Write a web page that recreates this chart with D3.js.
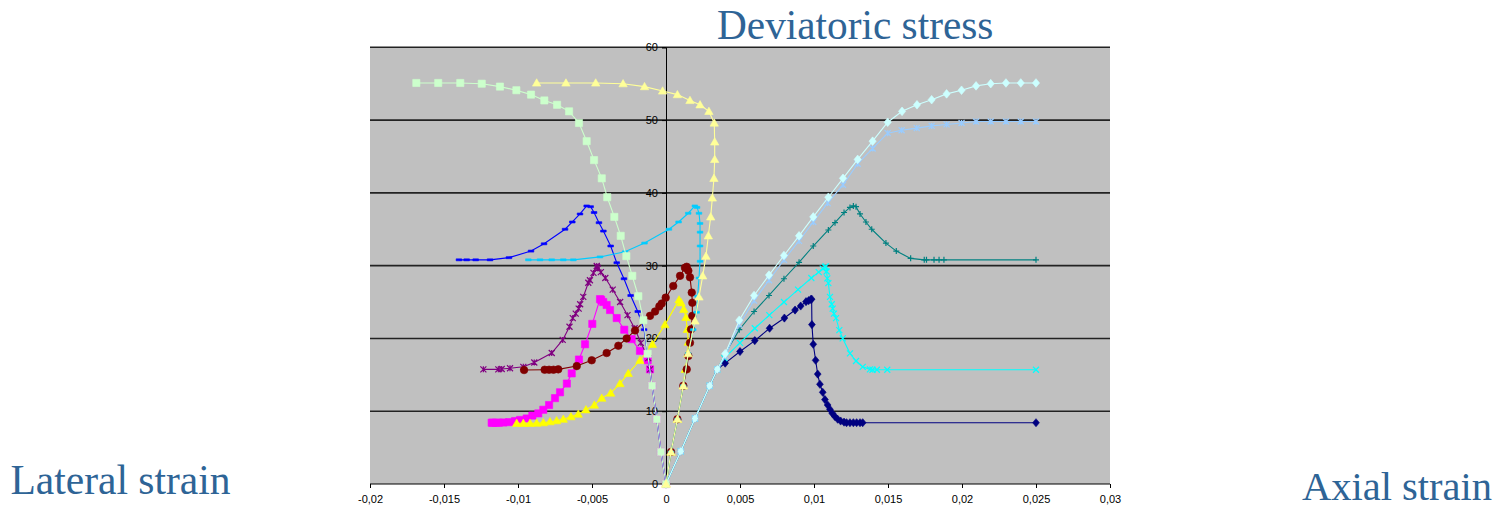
<!DOCTYPE html>
<html>
<head>
<meta charset="utf-8">
<script src="https://cdn.jsdelivr.net/npm/d3@7"></script>
<style>
  html, body { margin: 0; padding: 0; background: #ffffff; }
  svg { display: block; }
</style>
</head>
<body>
<svg id="chart" width="1503" height="509"></svg>
<script>
// Triaxial test curves: deviatoric stress against axial, lateral and volumetric strain.
// Each series is a list of [strain, stress] pairs.

const xTicks = [-0.02, -0.015, -0.01, -0.005, 0, 0.005, 0.01, 0.015, 0.02, 0.025, 0.03];
const yTicks = [0, 10, 20, 30, 40, 50, 60];

// Axial strain
const axialNavy = [[0,0],[0.001,4.5],[0.00196,9.0],[0.00295,13.5],[0.00347,15.75],[0.004,16.6],[0.005,18.2],[0.006,19.7],[0.007,21.4],[0.008,22.8],[0.00872,23.9],[0.0091,24.45],[0.00946,25.05],[0.00964,25.2],[0.00978,25.35],[0.00984,25.4],[0.00986,21.9],[0.00995,19.2],[0.01011,17.0],[0.01025,15.1],[0.0104,13.7],[0.01059,12.6],[0.01074,11.6],[0.01092,10.85],[0.01108,10.25],[0.01124,9.7],[0.01142,9.25],[0.0116,8.9],[0.0118,8.65],[0.01203,8.5],[0.0122,8.42],[0.01243,8.42],[0.01266,8.42],[0.01288,8.42],[0.01311,8.42],[0.01329,8.42],[0.025,8.42]];
const axialCyan = [[0,0],[0.001,4.5],[0.00196,9.0],[0.00295,13.5],[0.00347,15.75],[0.00394,17.3],[0.005,19.4],[0.006,21.4],[0.00698,23.2],[0.00797,25.0],[0.00892,26.7],[0.00982,28.3],[0.01032,29.1],[0.01059,29.6],[0.01074,29.8],[0.01079,29.9],[0.01085,29.2],[0.0109,28.25],[0.01097,27.6],[0.01108,25.7],[0.0112,24.7],[0.01126,24.1],[0.01135,23.4],[0.01149,22.8],[0.01171,21.15],[0.01194,20.0],[0.01243,17.95],[0.01284,16.9],[0.01329,16.1],[0.01378,15.75],[0.01395,15.7],[0.01425,15.7],[0.01495,15.7],[0.025,15.7]];
const axialTeal = [[0,0],[0.001,4.5],[0.00196,9.0],[0.00295,13.5],[0.00347,15.75],[0.004,17.9],[0.00495,21.2],[0.00595,23.7],[0.00696,25.9],[0.00797,28.2],[0.00899,30.45],[0.00995,32.7],[0.01097,34.9],[0.01142,35.9],[0.01203,37.3],[0.01243,38.0],[0.01266,38.2],[0.01284,38.1],[0.01311,37.1],[0.01351,36.0],[0.0139,35.0],[0.01486,33.1],[0.01556,32.0],[0.01653,31.0],[0.01745,30.8],[0.0176,30.8],[0.01811,30.8],[0.01845,30.8],[0.01878,30.8],[0.025,30.8]];
const axialPale = [[0,0],[0.001,4.5],[0.00196,9.0],[0.00295,13.5],[0.00347,15.75],[0.004,17.9],[0.00495,22.5],[0.00595,25.9],[0.00696,28.7],[0.00797,31.4],[0.00899,34.1],[0.00995,36.7],[0.01097,39.4],[0.01196,42.0],[0.01295,44.6],[0.01396,47.1],[0.01498,49.7],[0.01595,51.2],[0.01696,52.1],[0.01795,52.8],[0.01896,53.6],[0.01997,54.1],[0.02095,54.7],[0.02194,55.0],[0.02297,55.1],[0.02397,55.1],[0.025,55.1]];
const axialSky = [[0,0],[0.001,4.5],[0.00196,9.0],[0.00295,13.5],[0.00347,15.75],[0.004,17.6],[0.00495,21.9],[0.00595,25.2],[0.00696,28.0],[0.00797,30.8],[0.00899,33.4],[0.00995,36.0],[0.01092,38.6],[0.01196,41.1],[0.01295,44.0],[0.01396,46.1],[0.01498,48.2],[0.01592,48.6],[0.01694,48.9],[0.01795,49.2],[0.01896,49.4],[0.01997,49.6],[0.02095,49.8],[0.02194,49.8],[0.02297,49.8],[0.02397,49.8],[0.025,49.8]];

// Lateral strain
const lateralMagenta = [[0,0],[-0.00034,4.4],[-0.00062,8.9],[-0.00094,13.5],[-0.00108,15.75],[-0.00124,17.0],[-0.00176,18.3],[-0.00232,19.9],[-0.00282,21.2],[-0.00333,22.8],[-0.00378,23.9],[-0.00401,24.6],[-0.00424,25.0],[-0.00438,25.3],[-0.00446,25.4],[-0.00498,22.0],[-0.00547,19.2],[-0.00588,17.1],[-0.00637,15.2],[-0.0067,13.8],[-0.00716,12.6],[-0.0075,11.8],[-0.0079,10.85],[-0.00829,10.2],[-0.00863,9.7],[-0.00903,9.4],[-0.00941,9.0],[-0.00986,8.8],[-0.0102,8.65],[-0.0106,8.5],[-0.011,8.45],[-0.0113,8.42],[-0.0115,8.42],[-0.0117,8.42],[-0.01178,8.42]];
const lateralPurple = [[0,0],[-0.00034,4.4],[-0.00062,8.9],[-0.00094,13.5],[-0.00108,15.75],[-0.0012,17.3],[-0.0017,19.4],[-0.00212,21.4],[-0.0026,23.2],[-0.0031,25.0],[-0.0036,26.7],[-0.0041,28.3],[-0.0044,29.1],[-0.0046,29.6],[-0.00465,29.8],[-0.00468,29.95],[-0.0049,29.0],[-0.00514,28.0],[-0.00525,27.65],[-0.00559,25.7],[-0.0058,24.7],[-0.0059,24.1],[-0.0061,23.4],[-0.0063,22.8],[-0.00652,21.6],[-0.00698,19.8],[-0.00772,18.0],[-0.0089,16.7],[-0.00964,16.1],[-0.01054,15.9],[-0.0111,15.8],[-0.01133,15.75],[-0.01234,15.75]];
const lateralBlue = [[0,0],[-0.00034,4.4],[-0.00062,8.9],[-0.00094,13.5],[-0.00125,17.9],[-0.00148,21.2],[-0.00191,23.7],[-0.00239,25.9],[-0.00284,28.2],[-0.00333,30.4],[-0.00374,32.7],[-0.00423,34.75],[-0.00453,35.9],[-0.00486,37.3],[-0.00509,38.1],[-0.00536,38.2],[-0.00581,37.1],[-0.00633,36.0],[-0.00682,35.0],[-0.00824,33.0],[-0.00912,32.0],[-0.01061,31.1],[-0.01189,30.8],[-0.01286,30.8],[-0.01347,30.8],[-0.01399,30.8]];
const lateralGreen = [[0,0],[-0.00034,4.4],[-0.00062,8.9],[-0.00094,13.5],[-0.00124,17.9],[-0.00153,22.5],[-0.00187,25.8],[-0.00228,28.6],[-0.00268,31.3],[-0.00306,34.1],[-0.00349,36.7],[-0.00397,39.4],[-0.00434,42.0],[-0.00486,44.5],[-0.00536,47.1],[-0.00588,49.6],[-0.00655,51.2],[-0.00736,52.1],[-0.00822,52.7],[-0.00912,53.5],[-0.01011,54.1],[-0.01122,54.6],[-0.01245,55.0],[-0.0139,55.1],[-0.01539,55.1],[-0.01687,55.1]];

// Volumetric strain
const volumeYellow = [[0,0],[0.00034,4.4],[0.00077,8.9],[0.00117,13.5],[0.0013,15.75],[0.00148,17.9],[0.00151,19.5],[0.00144,21.25],[0.00135,22.9],[0.0012,24.0],[0.00102,24.9],[0.00088,25.3],[-0.00007,21.9],[-0.00092,19.2],[-0.00176,17.0],[-0.00255,15.2],[-0.00311,13.8],[-0.00374,12.5],[-0.00434,11.8],[-0.00484,10.85],[-0.00541,10.2],[-0.00593,9.6],[-0.00642,9.25],[-0.00694,8.9],[-0.00739,8.7],[-0.00784,8.56],[-0.00829,8.42],[-0.00874,8.36],[-0.00919,8.34],[-0.00964,8.34],[-0.01009,8.34]];
const volumeDarkRed = [[0,0],[0.00034,4.4],[0.00077,8.9],[0.00117,13.5],[0.0014,15.75],[0.00151,17.6],[0.00162,19.4],[0.00169,21.25],[0.00178,23.1],[0.00178,24.9],[0.00174,26.3],[0.00162,28.4],[0.00151,29.3],[0.0014,29.85],[0.00128,29.7],[0.00095,28.6],[0.00049,27.2],[-0.00002,25.6],[-0.00029,24.8],[-0.00045,24.4],[-0.00074,23.7],[-0.00108,23.1],[-0.00209,21.1],[-0.00266,20.0],[-0.00322,19.0],[-0.00401,18.0],[-0.00502,17.0],[-0.00603,16.2],[-0.00728,15.75],[-0.0076,15.7],[-0.0079,15.7],[-0.0082,15.7],[-0.00959,15.66]];
const volumeSky = [[0,0],[0.00034,4.4],[0.00077,8.9],[0.00117,13.5],[0.0015,17.9],[0.00184,21.2],[0.00207,23.6],[0.00214,25.8],[0.00223,28.3],[0.0023,30.6],[0.0023,32.7],[0.0023,34.6],[0.0023,35.8],[0.00223,37.2],[0.0021,38.0],[0.00195,38.2],[0.0015,37.2],[0.00085,36.0],[0.0002,35.0],[-0.00145,33.1],[-0.00277,31.9],[-0.00446,31.2],[-0.00626,30.8],[-0.00694,30.8],[-0.00772,30.8],[-0.00851,30.8],[-0.0093,30.8]];
const volumePaleYellow = [[0,0],[0.00034,4.4],[0.00077,8.9],[0.00117,13.5],[0.0015,17.9],[0.00196,22.4],[0.00223,25.7],[0.00248,28.6],[0.0027,31.3],[0.00286,34.1],[0.00302,36.7],[0.00313,39.3],[0.00324,42.0],[0.00329,44.6],[0.00329,47.0],[0.00326,49.6],[0.0029,51.2],[0.0023,52.1],[0.00162,52.7],[0.00077,53.5],[-0.00023,54.0],[-0.00145,54.6],[-0.0029,55.0],[-0.00475,55.1],[-0.00676,55.1],[-0.00874,55.1]];

// Drawing order, colour and marker of each series
const series = [
  { data: axialNavy,        color: "#000080", marker: "diamond",  r: 3.4 },
  { data: lateralMagenta,   color: "#FF00FF", marker: "square",   r: 3.6 },
  { data: volumeYellow,     color: "#FFFF00", marker: "triangle", r: 4.2 },
  { data: axialCyan,        color: "#00FFFF", marker: "x",        r: 3.0 },
  { data: lateralPurple,    color: "#800080", marker: "star",     r: 3.0 },
  { data: volumeDarkRed,    color: "#800000", marker: "circle",   r: 3.8 },
  { data: axialTeal,        color: "#008080", marker: "plus",     r: 3.0 },
  { data: lateralBlue,      color: "#0000FF", marker: "dash",     r: 2.8 },
  { data: volumeSky,        color: "#00CCFF", marker: "dash",     r: 2.8 },
  { data: axialSky,         color: "#99CCFF", marker: "star",     r: 3.0 },
  { data: axialPale,        color: "#CCFFFF", marker: "diamond",  r: 3.6 },
  { data: lateralGreen,     color: "#CCFFCC", marker: "square",   r: 3.6 },
  { data: volumePaleYellow, color: "#FFFF99", marker: "triangle", r: 4.2 }
];

const svg = d3.select("#chart");
const plot = { left: 370, right: 1110, top: 47.3, bottom: 484 };

const x = d3.scaleLinear().domain([-0.02, 0.03]).range([plot.left, plot.right]);
const y = d3.scaleLinear().domain([0, 60]).range([plot.bottom, plot.top]);
const fmt = d => String(d).replace(".", ",");

// Plot area
svg.append("rect")
  .attr("x", plot.left).attr("y", plot.top)
  .attr("width", plot.right - plot.left).attr("height", plot.bottom - plot.top)
  .attr("fill", "#C0C0C0");

// Horizontal gridlines
svg.append("g").selectAll("line")
  .data(yTicks.filter(d => d > 0))
  .join("line")
  .attr("x1", plot.left).attr("x2", plot.right)
  .attr("y1", d => y(d)).attr("y2", d => y(d))
  .attr("stroke", "#222").attr("stroke-width", 1.6);

// Y axis through zero strain
const yAxis = d3.axisLeft(y).tickValues(yTicks).tickSize(4).tickPadding(4).tickFormat(fmt);
const gy = svg.append("g").attr("transform", `translate(${x(0)},0)`).call(yAxis);
gy.select(".domain").attr("stroke", "#000").attr("stroke-width", 1);
gy.selectAll(".tick line").attr("stroke", "#000");
gy.selectAll("text").attr("font-family", "Liberation Sans, Arial, sans-serif").attr("font-size", 11).attr("fill", "#000");

// X axis along zero stress
const xAxis = d3.axisBottom(x).tickValues(xTicks).tickSize(4).tickPadding(7).tickFormat(fmt);
const gx = svg.append("g").attr("transform", `translate(0,${y(0)})`).call(xAxis);
gx.select(".domain").attr("stroke", "#000").attr("stroke-width", 1.2).attr("d", `M${plot.left},0H${plot.right}`);
gx.selectAll(".tick line").attr("stroke", "#000");
gx.selectAll("text").attr("font-family", "Liberation Sans, Arial, sans-serif").attr("font-size", 11).attr("fill", "#000");

// Marker shapes
function markerPath(type, r) {
  switch (type) {
    case "square":   return `M${-r},${-r}h${2*r}v${2*r}h${-2*r}Z`;
    case "diamond":  return `M0,${-r*1.2}L${r},0L0,${r*1.2}L${-r},0Z`;
    case "triangle": return `M0,${-r}L${r},${r*0.75}L${-r},${r*0.75}Z`;
    case "circle":   return d3.arc()({ innerRadius: 0, outerRadius: r, startAngle: 0, endAngle: 2 * Math.PI });
    case "x":        return `M${-r},${-r}L${r},${r}M${r},${-r}L${-r},${r}`;
    case "plus":     return `M${-r},0H${r}M0,${-r}V${r}`;
    case "star":     return `M${-r},${-r}L${r},${r}M${r},${-r}L${-r},${r}M0,${-r}V${r}`;
    case "dash":     return `M${-r},-1h${2*r}v2h${-2*r}Z`;
  }
}
const filled = new Set(["square", "diamond", "triangle", "circle", "dash"]);

const line = d3.line().x(d => x(d[0])).y(d => y(d[1]));

series.forEach(s => {
  const g = svg.append("g");
  g.append("path")
    .datum(s.data)
    .attr("d", line)
    .attr("fill", "none")
    .attr("stroke", s.color)
    .attr("stroke-width", 1.1);
  g.selectAll("path.m")
    .data(s.data)
    .join("path")
    .attr("class", "m")
    .attr("transform", d => `translate(${x(d[0])},${y(d[1])})`)
    .attr("d", markerPath(s.marker, s.r))
    .attr("fill", filled.has(s.marker) ? s.color : "none")
    .attr("stroke", s.color)
    .attr("stroke-width", filled.has(s.marker) ? 0.6 : 1.2);
});

// Titles
const titleFont = "Liberation Serif, Times New Roman, serif";
const titleColor = "#2E6496";
svg.append("text").attr("x", 717).attr("y", 38.5)
  .attr("font-family", titleFont).attr("font-size", 41.3).attr("fill", titleColor)
  .text("Deviatoric stress");
svg.append("text").attr("x", 10.5).attr("y", 493.5)
  .attr("font-family", titleFont).attr("font-size", 41.5).attr("fill", titleColor)
  .text("Lateral strain");
svg.append("text").attr("x", 1302).attr("y", 499.5)
  .attr("font-family", titleFont).attr("font-size", 40.5).attr("fill", titleColor)
  .text("Axial strain");
</script>
</body>
</html>
